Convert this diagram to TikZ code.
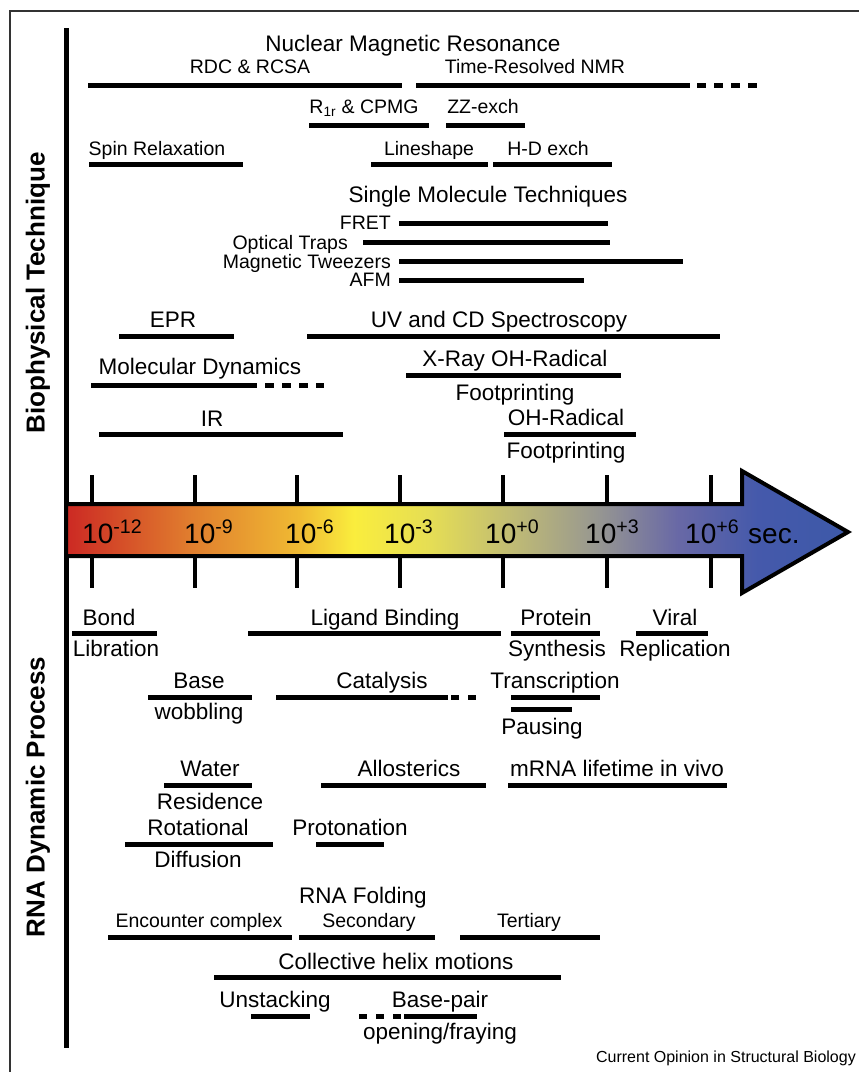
\documentclass[tikz,border=0pt]{standalone}
\usepackage{fontspec}
\setsansfont{Liberation Sans}
\usepackage{tikz}

% colour ramp of the time axis (path box is mapped onto 25bp..75bp)
\pgfdeclarehorizontalshading{timescale}{100bp}{%
    rgb(0bp)=(0.80,0.16,0.14);
    rgb(25bp)=(0.80,0.16,0.14);
    rgb(32.9bp)=(0.88,0.49,0.18);
    rgb(39.9bp)=(0.94,0.73,0.20);
    rgb(43.4bp)=(0.98,0.93,0.24);
    rgb(48.2bp)=(0.90,0.87,0.33);
    rgb(53.3bp)=(0.76,0.74,0.45);
    rgb(59bp)=(0.59,0.59,0.57);
    rgb(64.1bp)=(0.41,0.41,0.65);
    rgb(69.2bp)=(0.27,0.35,0.67);
    rgb(75bp)=(0.24,0.35,0.66);
    rgb(100bp)=(0.24,0.35,0.66)}

\newcommand{\rangebar}[3]{%
    \draw[bar_style] (#1,#3) -- (#2,#3);
}
\newcommand{\rangedots}[3]{%
    \draw[dots_style] (#1,#3) -- (#2,#3);
}
\newcommand{\decade}[4]{%
    % tick marks above and below the shaft, exponent label inside
    \draw[tick_style] (#2,475) -- (#2,504);
    \draw[tick_style] (#2,556) -- (#2,588);
    \node[axis_label] (#1) at (#3,543) {10\textsuperscript{#4}};
}

\begin{document}
\begin{tikzpicture}[
        x=1pt, y=-1pt,
        bar_style/.style={line width=5pt},
        dots_style/.style={line width=5pt, dash pattern=on 9pt off 8pt},
        tick_style/.style={line width=4pt},
        big_label/.style={font=\sffamily\fontsize{22.5}{24}\selectfont, inner sep=0pt, anchor=base, yshift=-8pt},
        mid_label/.style={font=\sffamily\fontsize{19.5}{21}\selectfont, inner sep=0pt, anchor=base, yshift=-7pt},
        axis_label/.style={font=\sffamily\fontsize{28}{30}\selectfont, inner sep=0pt, anchor=base west},
        side_label/.style={font=\sffamily\bfseries\fontsize{26}{28}\selectfont, inner sep=0pt, rotate=90}
    ]
    \useasboundingbox (0,0) rectangle (859,1072);

    % =========================================================================
    % 1. FRAME AND VERTICAL AXIS
    % =========================================================================
    \draw[line width=1.2pt, draw=black!80] (859,11) -- (10,11) -- (10,1072);
    \draw[line width=5pt] (66,28) -- (66,1048);
    \node[side_label] (tech) at (38,293) {Biophysical Technique};
    \node[side_label] (proc) at (38,797) {RNA Dynamic Process};

    % =========================================================================
    % 2. BIOPHYSICAL TECHNIQUES (above the time arrow)
    % =========================================================================
    \node[big_label] (nmr) at (413,43) {Nuclear Magnetic Resonance};
    \node[mid_label] (rdc) at (250,66) {RDC \& RCSA};
    \node[mid_label] (trnmr) at (535,66) {Time-Resolved NMR};
    \rangebar{88}{402}{85}
    \rangebar{416}{690}{85}
    \rangedots{697}{760}{85}

    \node[mid_label] (cpmg) at (364,106) {R\textsubscript{1r} \& CPMG};
    \node[mid_label] (zzex) at (483,106) {ZZ-exch};
    \rangebar{309}{429}{125}
    \rangebar{446}{525}{125}

    \node[mid_label] (spin) at (157,148) {Spin Relaxation};
    \node[mid_label] (lineshape) at (429,148) {Lineshape};
    \node[mid_label] (hdex) at (548,148) {H-D exch};
    \rangebar{89}{243}{164}
    \rangebar{371}{488}{164}
    \rangebar{493}{612}{164}

    % single molecule block, names right-aligned in front of their bars
    \node[big_label] (single) at (488,194) {Single Molecule Techniques};
    \node[mid_label, anchor=base east] (fret) at (391,222) {FRET};
    \node[mid_label, anchor=base east] (optical) at (348,242) {Optical Traps};
    \node[mid_label, anchor=base east] (magnetic) at (391,261) {Magnetic Tweezers};
    \node[mid_label, anchor=base east] (afm) at (391,279) {AFM};
    \rangebar{399}{608}{223}
    \rangebar{363}{610}{242}
    \rangebar{399}{683}{261}
    \rangebar{399}{584}{280}

    \node[big_label] (epr) at (173,319) {EPR};
    \node[big_label] (uvcd) at (499,319) {UV and CD Spectroscopy};
    \rangebar{119}{234}{336}
    \rangebar{307}{720}{336}

    \node[big_label] (md) at (200,366) {Molecular Dynamics};
    \rangebar{91}{257}{385}
    \rangedots{265}{324}{385}

    \node[big_label] (xray) at (515,358) {X-Ray OH-Radical};
    \node[big_label] (xrayfp) at (515,392) {Footprinting};
    \rangebar{406}{621}{375}

    \node[big_label] (ir) at (212,418) {IR};
    \rangebar{99}{343}{434}

    \node[big_label] (ohrad) at (566,417) {OH-Radical};
    \node[big_label] (ohradfp) at (566,450) {Footprinting};
    \rangebar{504}{636}{434}

    % =========================================================================
    % 3. TIME ARROW
    % =========================================================================
    \shadedraw[shading=timescale, line width=4pt, line join=miter]
        (66,504) -- (742,504) -- (742,471) -- (848,532) -- (742,593)
        -- (742,556) -- (66,556) -- cycle;
    \decade{d12}{92}{82}{-12}
    \decade{d9}{195}{184}{-9}
    \decade{d6}{297}{285}{-6}
    \decade{d3}{400}{384}{-3}
    \decade{d0}{503}{485}{+0}
    \decade{p3}{607}{585}{+3}
    \decade{p6}{711}{685}{+6}
    \node[axis_label] (sec) at (748,543) {sec.};

    % =========================================================================
    % 4. RNA DYNAMIC PROCESSES (below the time arrow)
    % =========================================================================
    \node[big_label] (bond) at (109,617) {Bond};
    \node[big_label] (libration) at (116,648) {Libration};
    \node[big_label] (ligand) at (385,617) {Ligand Binding};
    \node[big_label] (protein) at (556,617) {Protein};
    \node[big_label] (synthesis) at (557,648) {Synthesis};
    \node[big_label] (viral) at (675,617) {Viral};
    \node[big_label] (replication) at (675,648) {Replication};
    \rangebar{72}{157}{633}
    \rangebar{248}{501}{633}
    \rangebar{511}{600}{633}
    \rangebar{636}{708}{633}

    \node[big_label] (base) at (199,680) {Base};
    \node[big_label] (wobbling) at (199,711) {wobbling};
    \node[big_label] (catalysis) at (382,680) {Catalysis};
    \node[big_label] (transcription) at (555,680) {Transcription};
    \node[big_label] (pausing) at (542,726) {Pausing};
    \rangebar{148}{252}{697}
    \rangebar{276}{448}{697}
    \draw[dots_style, dash pattern=on 8pt off 9pt] (451,697) -- (476,697);
    \rangebar{511}{600}{697}
    \rangebar{511}{572}{709}

    \node[big_label] (water) at (210,768) {Water};
    \node[big_label] (residence) at (210,801) {Residence};
    \node[big_label] (allosterics) at (409,768) {Allosterics};
    \node[big_label] (mrna) at (617,768) {mRNA lifetime in vivo};
    \rangebar{164}{252}{785}
    \rangebar{321}{486}{785}
    \rangebar{508}{727}{785}

    \node[big_label] (rotational) at (198,827) {Rotational};
    \node[big_label] (diffusion) at (198,859) {Diffusion};
    \node[big_label] (protonation) at (350,827) {Protonation};
    \rangebar{125}{273}{844}
    \rangebar{316}{384}{844}

    % folding block
    \node[big_label] (folding) at (363,895) {RNA Folding};
    \node[mid_label] (encounter) at (199,920) {Encounter complex};
    \node[mid_label] (secondary) at (369,920) {Secondary};
    \node[mid_label] (tertiary) at (529,920) {Tertiary};
    \rangebar{108}{292}{937}
    \rangebar{299}{435}{937}
    \rangebar{460}{600}{937}

    \node[big_label] (helix) at (396,961) {Collective helix motions};
    \rangebar{214}{561}{977}

    \node[big_label] (unstacking) at (275,999) {Unstacking};
    \node[big_label] (basepair) at (440,999) {Base-pair};
    \node[big_label] (opening) at (440,1031) {opening/fraying};
    \rangebar{251}{310}{1016}
    \draw[dots_style, dash pattern=on 8pt off 9pt] (359,1016) -- (401,1016);
    \rangebar{404}{477}{1016}

    % journal credit
    \node[font=\sffamily\fontsize{16}{18}\selectfont, inner sep=0pt, anchor=base east] (credit) at (856,1062) {Current Opinion in Structural Biology};

\end{tikzpicture}
\end{document}
